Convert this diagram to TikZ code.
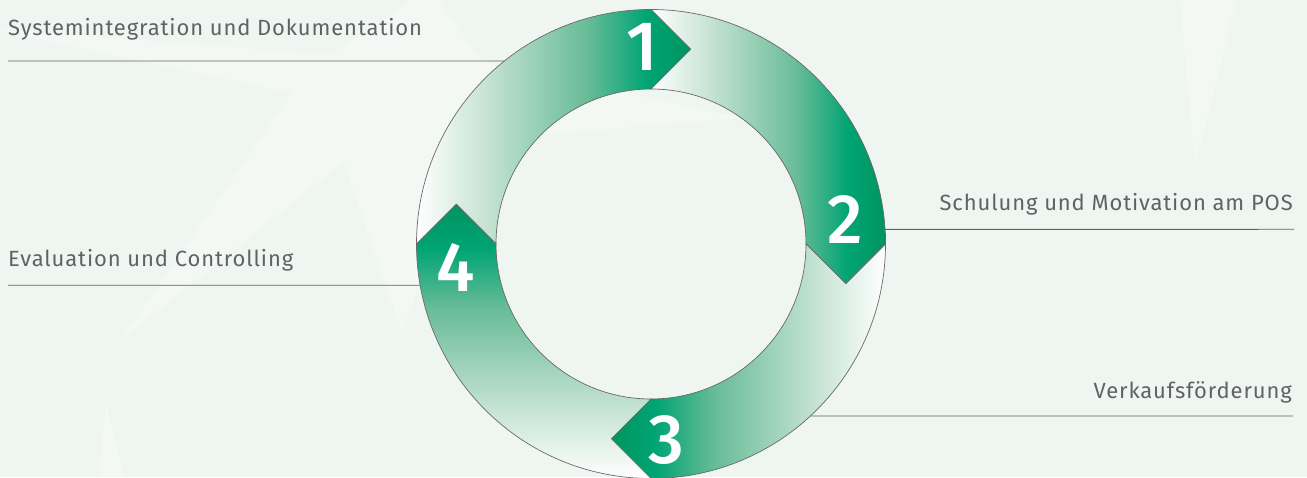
\documentclass[tikz,border=0pt]{standalone}
\usepackage{fontspec}
\setmainfont{Fira Sans}[LetterSpace=4]
\newfontfamily\numfont{Fira Sans}[UprightFont=* Medium]
\usepackage{tikz}
\usetikzlibrary{calc}
\definecolor{bgmint}{RGB}{239,245,241}
\definecolor{ringdark}{RGB}{0,148,96}
\definecolor{ringgreen}{RGB}{0,164,115}
\definecolor{ringmid}{RGB}{105,188,152}
\definecolor{ringpale}{RGB}{196,226,210}
\definecolor{labelgray}{RGB}{96,98,100}
\definecolor{edgegray}{RGB}{105,105,105}
\pgfdeclarehorizontalshading{ringfade}{100bp}{color(0bp)=(white); color(25bp)=(white); color(38bp)=(ringpale); color(56bp)=(ringmid); color(67bp)=(ringgreen); color(75bp)=(ringdark); color(100bp)=(ringdark)}

\begin{document}
\begin{tikzpicture}[x=1pt, y=1pt,
  ringseg/.style={shading=ringfade, draw=edgegray, line width=0.7pt, line join=miter},
  leader/.style={draw=labelgray, line width=0.9pt},
  steplabel/.style={text=labelgray, inner sep=0pt, font=\fontsize{22}{26}\selectfont},
  numlabel/.style={text=white, inner sep=0pt, font=\numfont\fontsize{70}{70}\selectfont}]
\useasboundingbox (0,0) rectangle (1307,477);
\clip (0,0) rectangle (1307,477);
\fill[bgmint] (0,0) rectangle (1307,477);
% faint star in the background
\fill[white, opacity=0.3] (292,384) -- (-20,450) -- (330,422) -- (430,490) -- (480,417) -- (740,359) -- (470,337) -- (402,144) -- (344,315) -- (121,137) -- cycle;
\fill[white, opacity=0.3] (1180,477) -- (1236,477) -- (1195,310) -- cycle;
\fill[white, opacity=0.3] (98,-5) -- (106,74) -- (126,-5) -- cycle;

\begin{scope}[shift={(651,233)}]
\coordinate (ring) at (0,0);
\coordinate (c1) at (128.71:234.5);
\coordinate (c2) at (3.59:234.5);
\coordinate (c3) at (-47.18:234.5);
\coordinate (c4) at (190.14:234.5);
\end{scope}

% labels and leader lines
\node[steplabel, anchor=base west] (lab1) at (8,441) {Systemintegration und Dokumentation};
\node[steplabel, anchor=base east] (lab2) at (1293,266) {Schulung und Motivation am POS};
\node[steplabel, anchor=base east] (lab3) at (1292,78.7) {Verkaufsförderung};
\node[steplabel, anchor=base west] (lab4) at (8,210.3) {Evaluation und Controlling};
\coordinate (e1) at (8,416);
\coordinate (e2) at (1294,247.7);
\coordinate (e3) at (1293,61);
\coordinate (e4) at (8,191.7);
\draw[leader] (e1) -- (c1);
\draw[leader] (c2) -- (e2);
\draw[leader] (c3) -- (e3);
\draw[leader] (e4) -- (c4);

% the four arrows of the cycle
\begin{scope}[shift={(651,233)}]
\shade[ringseg, shading angle=0] (180:234.5) arc[start angle=180, end angle=90, radius=234.5] -- ($(90:194.75)+(0:39.75)$) -- (90:155) arc[start angle=90, end angle=180, radius=155] -- ($(180:194.75)+(90:39.75)$) -- cycle;
\shade[ringseg, shading angle=0] (90:234.5) arc[start angle=90, end angle=0, radius=234.5] -- ($(0:194.75)+(-90:39.75)$) -- (0:155) arc[start angle=0, end angle=90, radius=155] -- ($(90:194.75)+(0:39.75)$) -- cycle;
\shade[ringseg, shading angle=180] (0:234.5) arc[start angle=0, end angle=-90, radius=234.5] -- ($(-90:194.75)+(180:39.75)$) -- (-90:155) arc[start angle=-90, end angle=0, radius=155] -- ($(0:194.75)+(-90:39.75)$) -- cycle;
\shade[ringseg, shading angle=90] (-90:234.5) arc[start angle=-90, end angle=-180, radius=234.5] -- ($(180:194.75)+(90:39.75)$) -- (180:155) arc[start angle=180, end angle=270, radius=155] -- ($(-90:194.75)+(180:39.75)$) -- cycle;
\end{scope}

\node[numlabel] (n1) at (642,430) {1};
\node[numlabel] (n2) at (845,257.5) {2};
\node[numlabel] (n3) at (666.5,37) {3};
\node[numlabel] (n4) at (456,209.5) {4};
\end{tikzpicture}
\end{document}
